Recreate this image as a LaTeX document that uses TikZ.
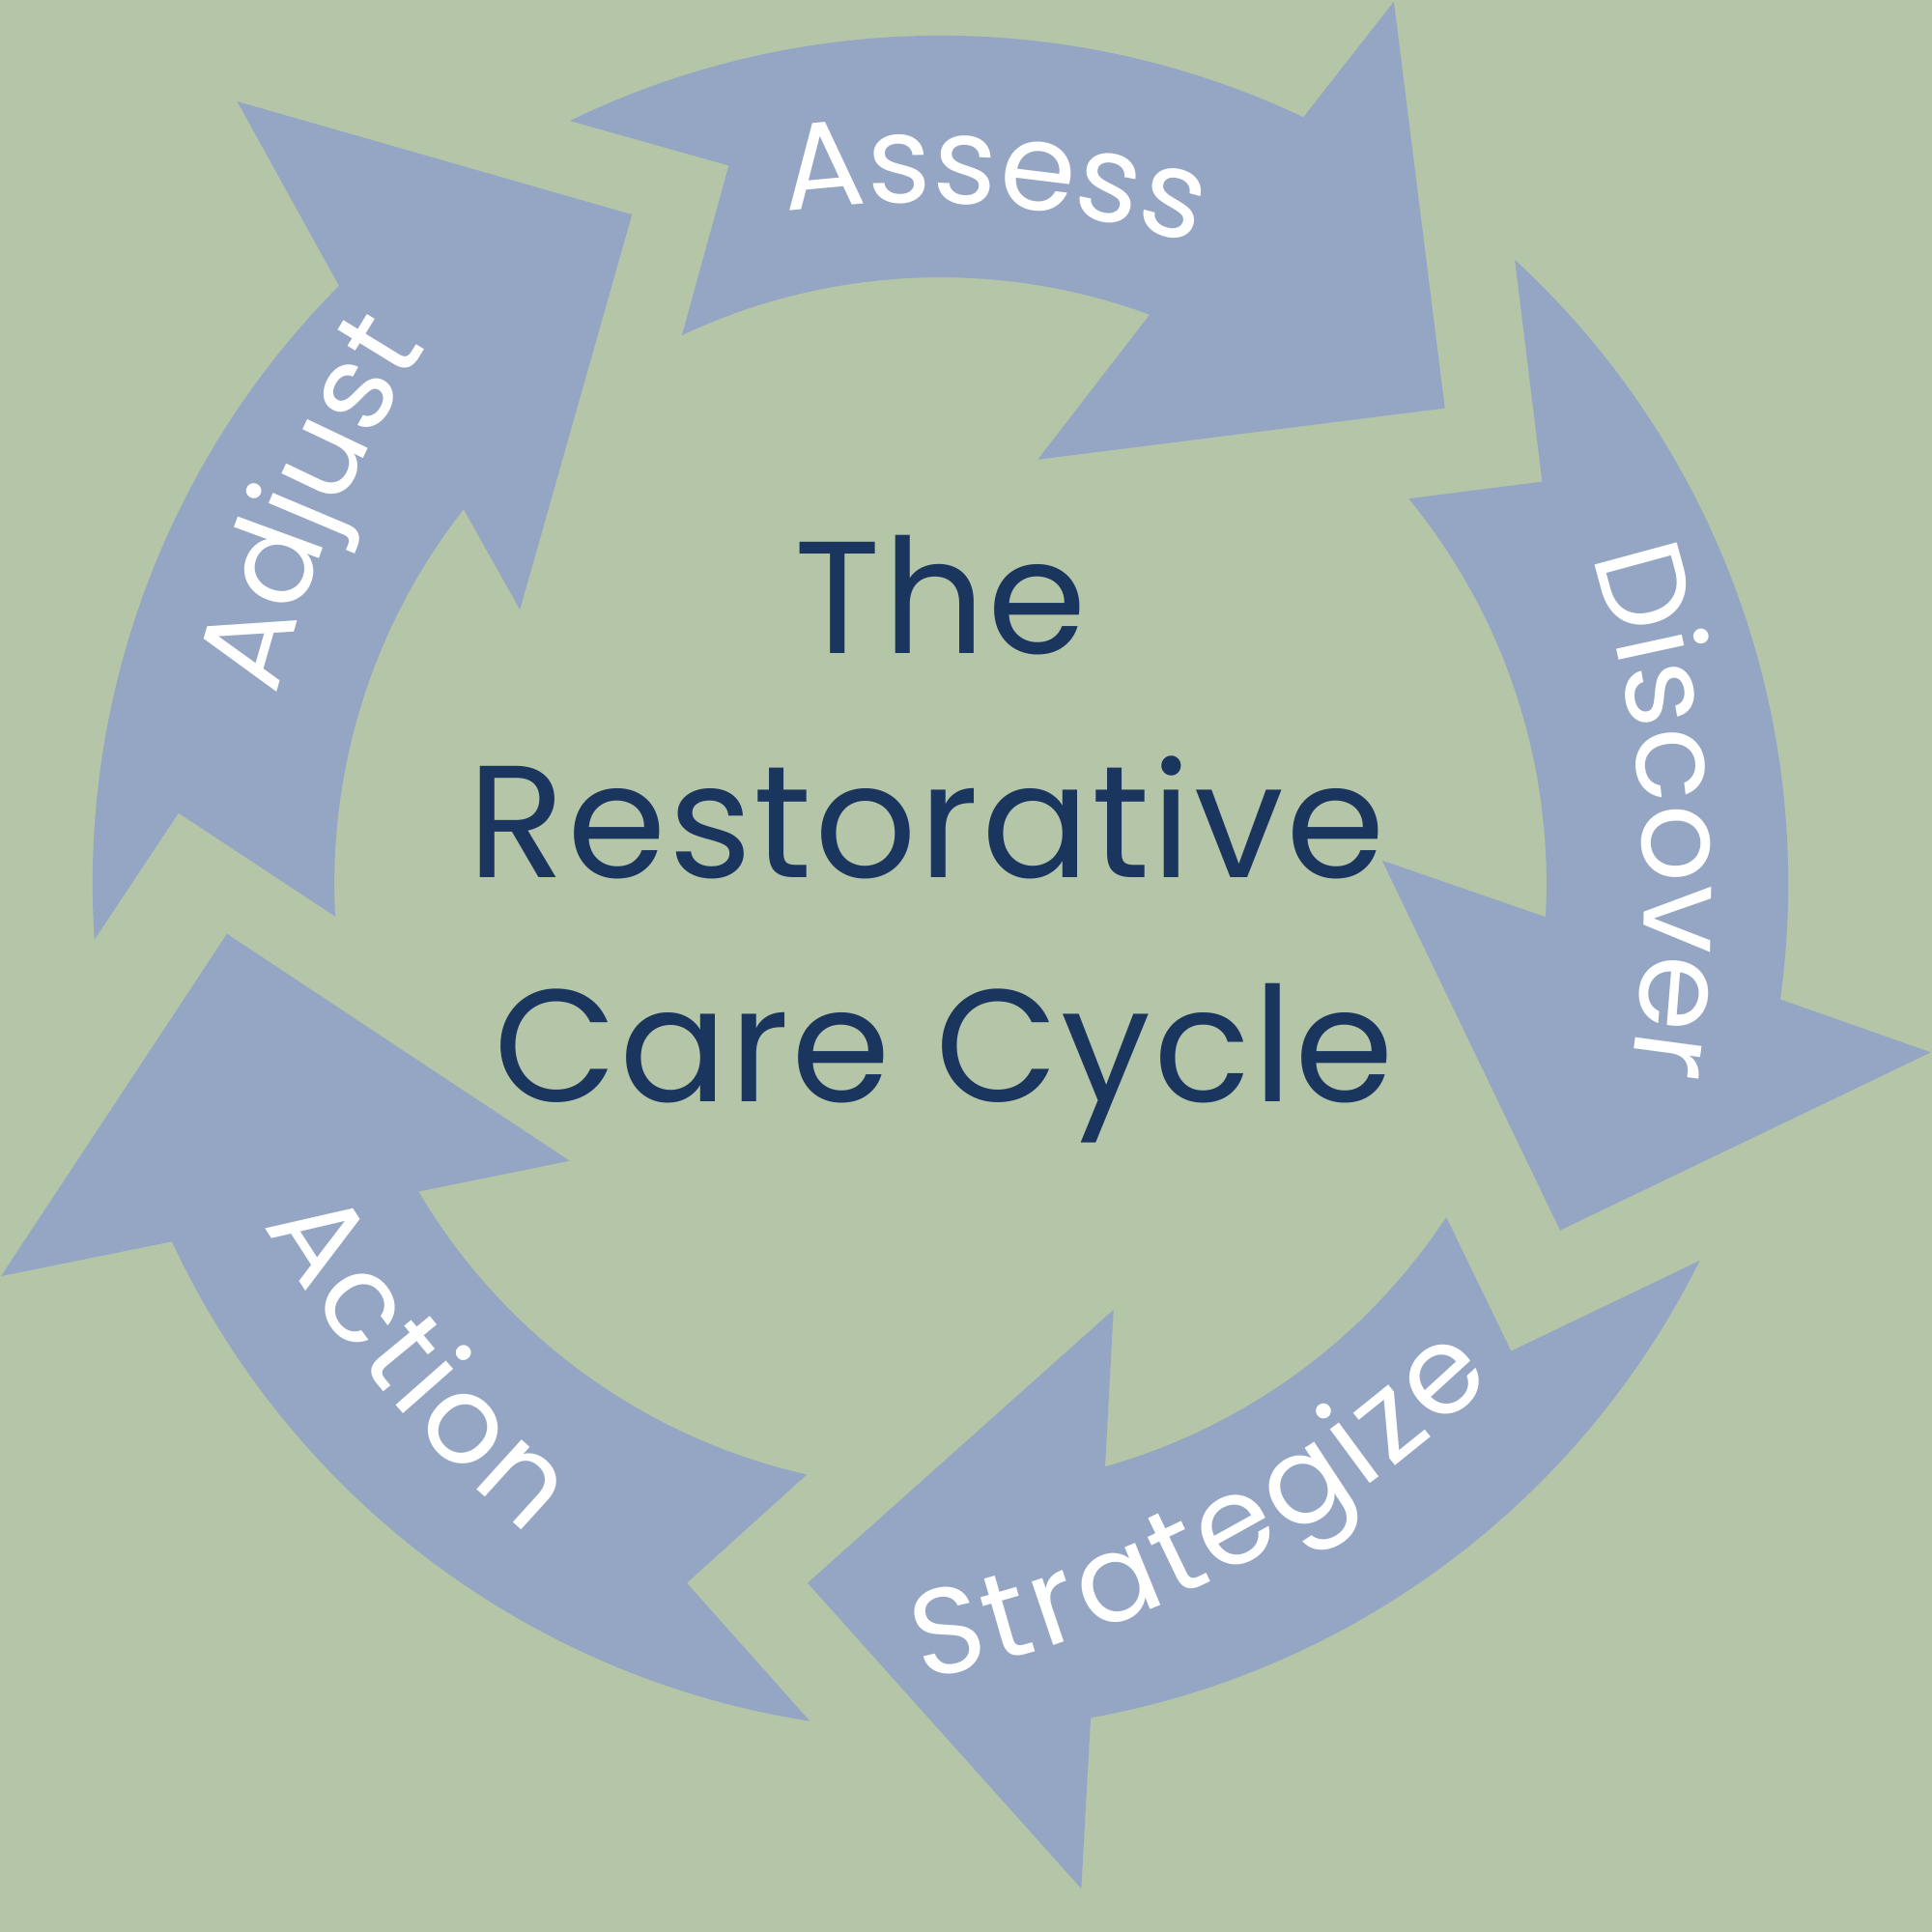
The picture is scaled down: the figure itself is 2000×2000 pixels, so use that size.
\documentclass[tikz,border=0pt]{standalone}
\usepackage{fontspec}
\setmainfont{Poppins}
\newfontfamily\popfont{Poppins}
\newfontfamily\titlepop{Poppins}[LetterSpace=1.5]
\usetikzlibrary{calc,decorations.text}
\definecolor{bgc}{HTML}{B4C6A7}
\definecolor{arrowc}{HTML}{94A6C4}
\definecolor{navyc}{HTML}{1B365E}
\newcommand\arcfontsel{\popfont\fontsize{36}{40}\selectfont}
\begin{document}
\begin{tikzpicture}[x=0.01cm,y=-0.01cm,
  arrowshape/.style={fill=arrowc,draw=none},
  arcword/.style={decorate,decoration={text along path,text align=center,text color=white,text={#1}}},
  arcwordfit/.style={decorate,decoration={text along path,text align={fit to path},text color=white,text={#1}}},
  titletext/.style={text=navyc,inner sep=0pt,anchor=base,font=\titlepop\fontsize{47}{50}\selectfont}]
\fill[bgc] (0,0) rectangle (2000,2000);
\useasboundingbox (0,0) rectangle (2000,2000);
\coordinate (C) at (973.5,914.5);
% Assess
\fill[arrowshape] ($(C)+(-115.91:877.7)$) arc[start angle=-115.91,end angle=-64.65,radius=877.7]
  -- (1442.9,1.7) -- (1495.7,422.6) -- (1074.3,475.7)
  -- ($(C)+(-69.80:627.4)$) arc[start angle=-69.80,end angle=-115.25,radius=627.4]
  -- (754.4,171.4) -- cycle;
% Discover
\fill[arrowshape] ($(C)+(-47.35:877.7)$) arc[start angle=-47.35,end angle=7.86,radius=877.7]
  -- (1998.8,1089.4) -- (1615,1273.6) -- (1430.7,890.7)
  -- ($(C)+(3.17:627.4)$) arc[start angle=3.17,end angle=-39.41,radius=627.4]
  -- (1596.4,498.6) -- cycle;
% Strategize
\fill[arrowshape] ($(C)+(26.42:877.7)$) arc[start angle=26.42,end angle=79.79,radius=877.7]
  -- (1119.3,1955) -- (836,1638.7) -- (1152.7,1355.8)
  -- ($(C)+(74.23:627.4)$) arc[start angle=74.23,end angle=33.42,radius=627.4]
  -- (1564.3,1398.6) -- cycle;
% Action
\fill[arrowshape] ($(C)+(98.86:877.7)$) arc[start angle=98.86,end angle=155.01,radius=877.7]
  -- (1.1,1321) -- (235,966.7) -- (589.7,1201.7)
  -- ($(C)+(149.44:627.4)$) arc[start angle=149.44,end angle=102.74,radius=627.4]
  -- (711,1638.7) -- cycle;
% Adjust
\fill[arrowshape] ($(C)+(176.20:877.7)$) arc[start angle=176.20,end angle=224.82,radius=877.7]
  -- (245.5,105) -- (654.2,222.1) -- (538.2,631.1)
  -- ($(C)+(218.12:627.4)$) arc[start angle=218.12,end angle=176.87,radius=627.4]
  -- (184.8,841.7) -- cycle;
% curved labels
\coordinate (TAs) at (949,1210);
\coordinate (TDi) at (514,930);
\coordinate (TSt) at (729,592);
\coordinate (TAc) at (1393,595);
\coordinate (TAd) at (1472,1018);
\path[arcword={|\arcfontsel|Assess}] ($(TAs)+(-105:1000)$) arc[start angle=-105,end angle=-66,radius=1000];
\path[arcword={|\arcfontsel|Discover}] ($(TDi)+(-22.29:1188)$) arc[start angle=-22.29,end angle=13.71,radius=1188];
\path[arcwordfit={|\arcfontsel|Strategize}] ($(TSt)+(78.9:1169)$) arc[start angle=78.9,end angle=45.6,radius=1169];
\path[arcwordfit={|\arcfontsel|Action}] ($(TAc)+(149.0:1306)$) arc[start angle=149.0,end angle=130.4,radius=1306];
\path[arcword={|\arcfontsel|Adjust}] ($(TAd)+(-175.65:1223)$) arc[start angle=-175.65,end angle=-137.65,radius=1223];
% title
\node[titletext] (t1) at (974,676.7) {The};
\node[titletext] (t2) at (959,908.6) {Restorative};
\node[titletext] (t3) at (977,1140.8) {Care Cycle};
\end{tikzpicture}
\end{document}
